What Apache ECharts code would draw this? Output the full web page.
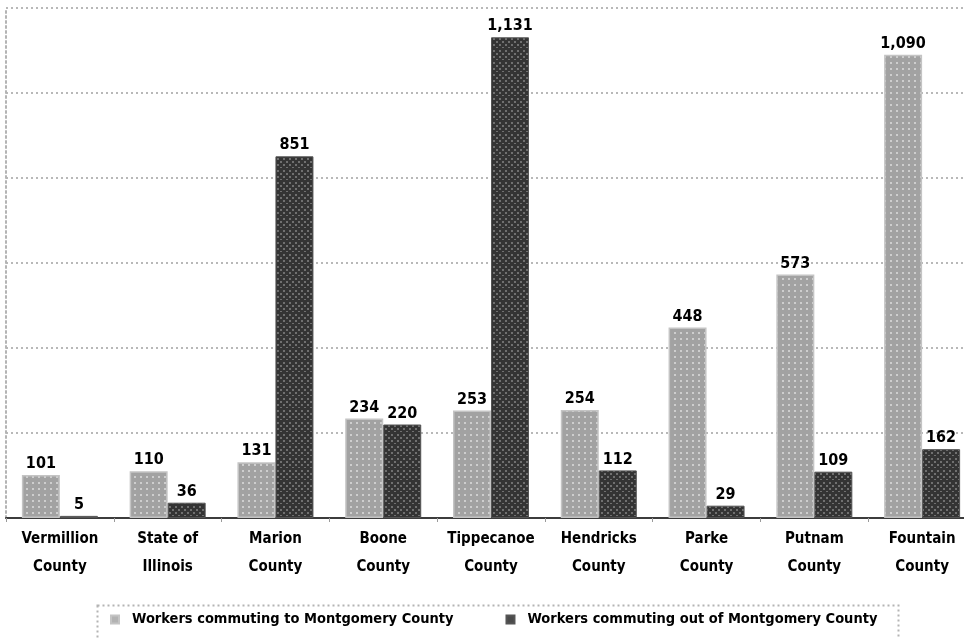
<!DOCTYPE html>
<html>
<head>
<meta charset="utf-8">
<script src="https://cdn.jsdelivr.net/npm/echarts@6/dist/echarts.min.js"></script>
<style>
  html, body { margin: 0; padding: 0; background: #ffffff; }
  #chart { width: 964px; height: 639px; }
</style>
</head>
<body>
<div id="chart"></div>
<script>
// Commuting flows between Montgomery County and its neighbours
const categories = [
  'Vermillion\nCounty', 'State of\nIllinois', 'Marion\nCounty', 'Boone\nCounty',
  'Tippecanoe\nCounty', 'Hendricks\nCounty', 'Parke\nCounty', 'Putnam\nCounty', 'Fountain\nCounty'
];
const seriesNames = [
  'Workers commuting to Montgomery County',
  'Workers commuting out of Montgomery County'
];
const commutingIn  = [101, 110, 131, 234, 253, 254, 448, 573, 1090];
const commutingOut = [5, 36, 851, 220, 1131, 112, 29, 109, 162];
const yMin = 0, yMax = 1200, yStep = 200;

const FONT = "'Liberation Sans Narrow', 'DejaVu Sans Condensed', sans-serif";

// Small tiled canvases give the bars their dotted screen texture
function dotPattern(bg, dot, size, dots) {
  const c = document.createElement('canvas');
  c.width = size; c.height = size;
  const g = c.getContext('2d');
  g.fillStyle = bg;
  g.fillRect(0, 0, size, size);
  g.fillStyle = dot;
  dots.forEach(([x, y]) => g.fillRect(x, y, 2, 2));
  return c;
}
const lightFill = dotPattern('#a2a2a2', '#cecece', 6, [[2, 2]]);
const darkFill = dotPattern('#343434', '#707070', 12, [[1, 2], [7, 2], [4, 5], [10, 5], [1, 8], [7, 8], [4, 11], [10, 11]]);

const fmt = v => Number(v).toLocaleString('en-US');

const chart = echarts.init(document.getElementById('chart'), null, { renderer: 'canvas' });

const barLabel = {
  show: true,
  position: 'top',
  distance: 3,
  color: '#000',
  fontFamily: FONT,
  fontWeight: 'bold',
  fontSize: 16,
  formatter: p => fmt(p.value)
};

chart.setOption({
  animation: false,
  backgroundColor: '#ffffff',
  grid: { left: 6, top: 8, width: 970, height: 510, containLabel: false, outerBoundsMode: 'none' },
  xAxis: {
    type: 'category',
    data: categories,
    axisLine: { show: true, lineStyle: { color: '#3c3c3c', width: 2 } },
    axisTick: { show: true, alignWithLabel: false, length: 4, lineStyle: { color: '#9a9a9a', width: 1 } },
    axisLabel: {
      color: '#000',
      fontFamily: FONT,
      fontWeight: 'bold',
      fontSize: 15,
      lineHeight: 28,
      margin: 7,
      interval: 0,
      hideOverlap: false
    }
  },
  yAxis: {
    type: 'value',
    min: yMin,
    max: yMax,
    interval: yStep,
    axisLabel: { show: false },
    axisTick: { show: false },
    axisLine: { show: true, lineStyle: { color: '#b4b4b4', width: 2, type: [2, 3] } },
    splitLine: { show: true, lineStyle: { color: '#b8b8b8', width: 2, type: [2, 3] } }
  },
  legend: {
    left: 110,
    top: 612,
    padding: 0,
    itemWidth: 8,
    itemHeight: 8,
    itemGap: 52,
    icon: 'rect',
    textStyle: {
      color: '#000',
      fontFamily: FONT,
      fontWeight: 'bold',
      fontSize: 14.5,
      padding: [0, 0, 0, 8]
    },
    data: [
      { name: seriesNames[0], itemStyle: { color: '#b2b2b2' } },
      { name: seriesNames[1], itemStyle: { color: '#4a4a4a' } }
    ]
  },
  graphic: [
    {
      type: 'rect',
      silent: true,
      shape: { x: 97.5, y: 605.5, width: 801, height: 60 },
      style: { fill: 'none', stroke: '#b4b4b4', lineWidth: 2, lineDash: [2, 3] }
    }
  ],
  series: [
    {
      name: seriesNames[0],
      type: 'bar',
      data: commutingIn,
      barWidth: 38,
      barGap: '0%',
      itemStyle: { color: { image: lightFill, repeat: 'repeat' }, borderColor: '#c4c4c4', borderWidth: 1.5 },
      label: barLabel
    },
    {
      name: seriesNames[1],
      type: 'bar',
      data: commutingOut,
      barWidth: 38,
      barGap: '0%',
      itemStyle: { color: { image: darkFill, repeat: 'repeat' }, borderColor: '#555555', borderWidth: 1 },
      label: barLabel
    }
  ]
});
</script>
</body>
</html>
